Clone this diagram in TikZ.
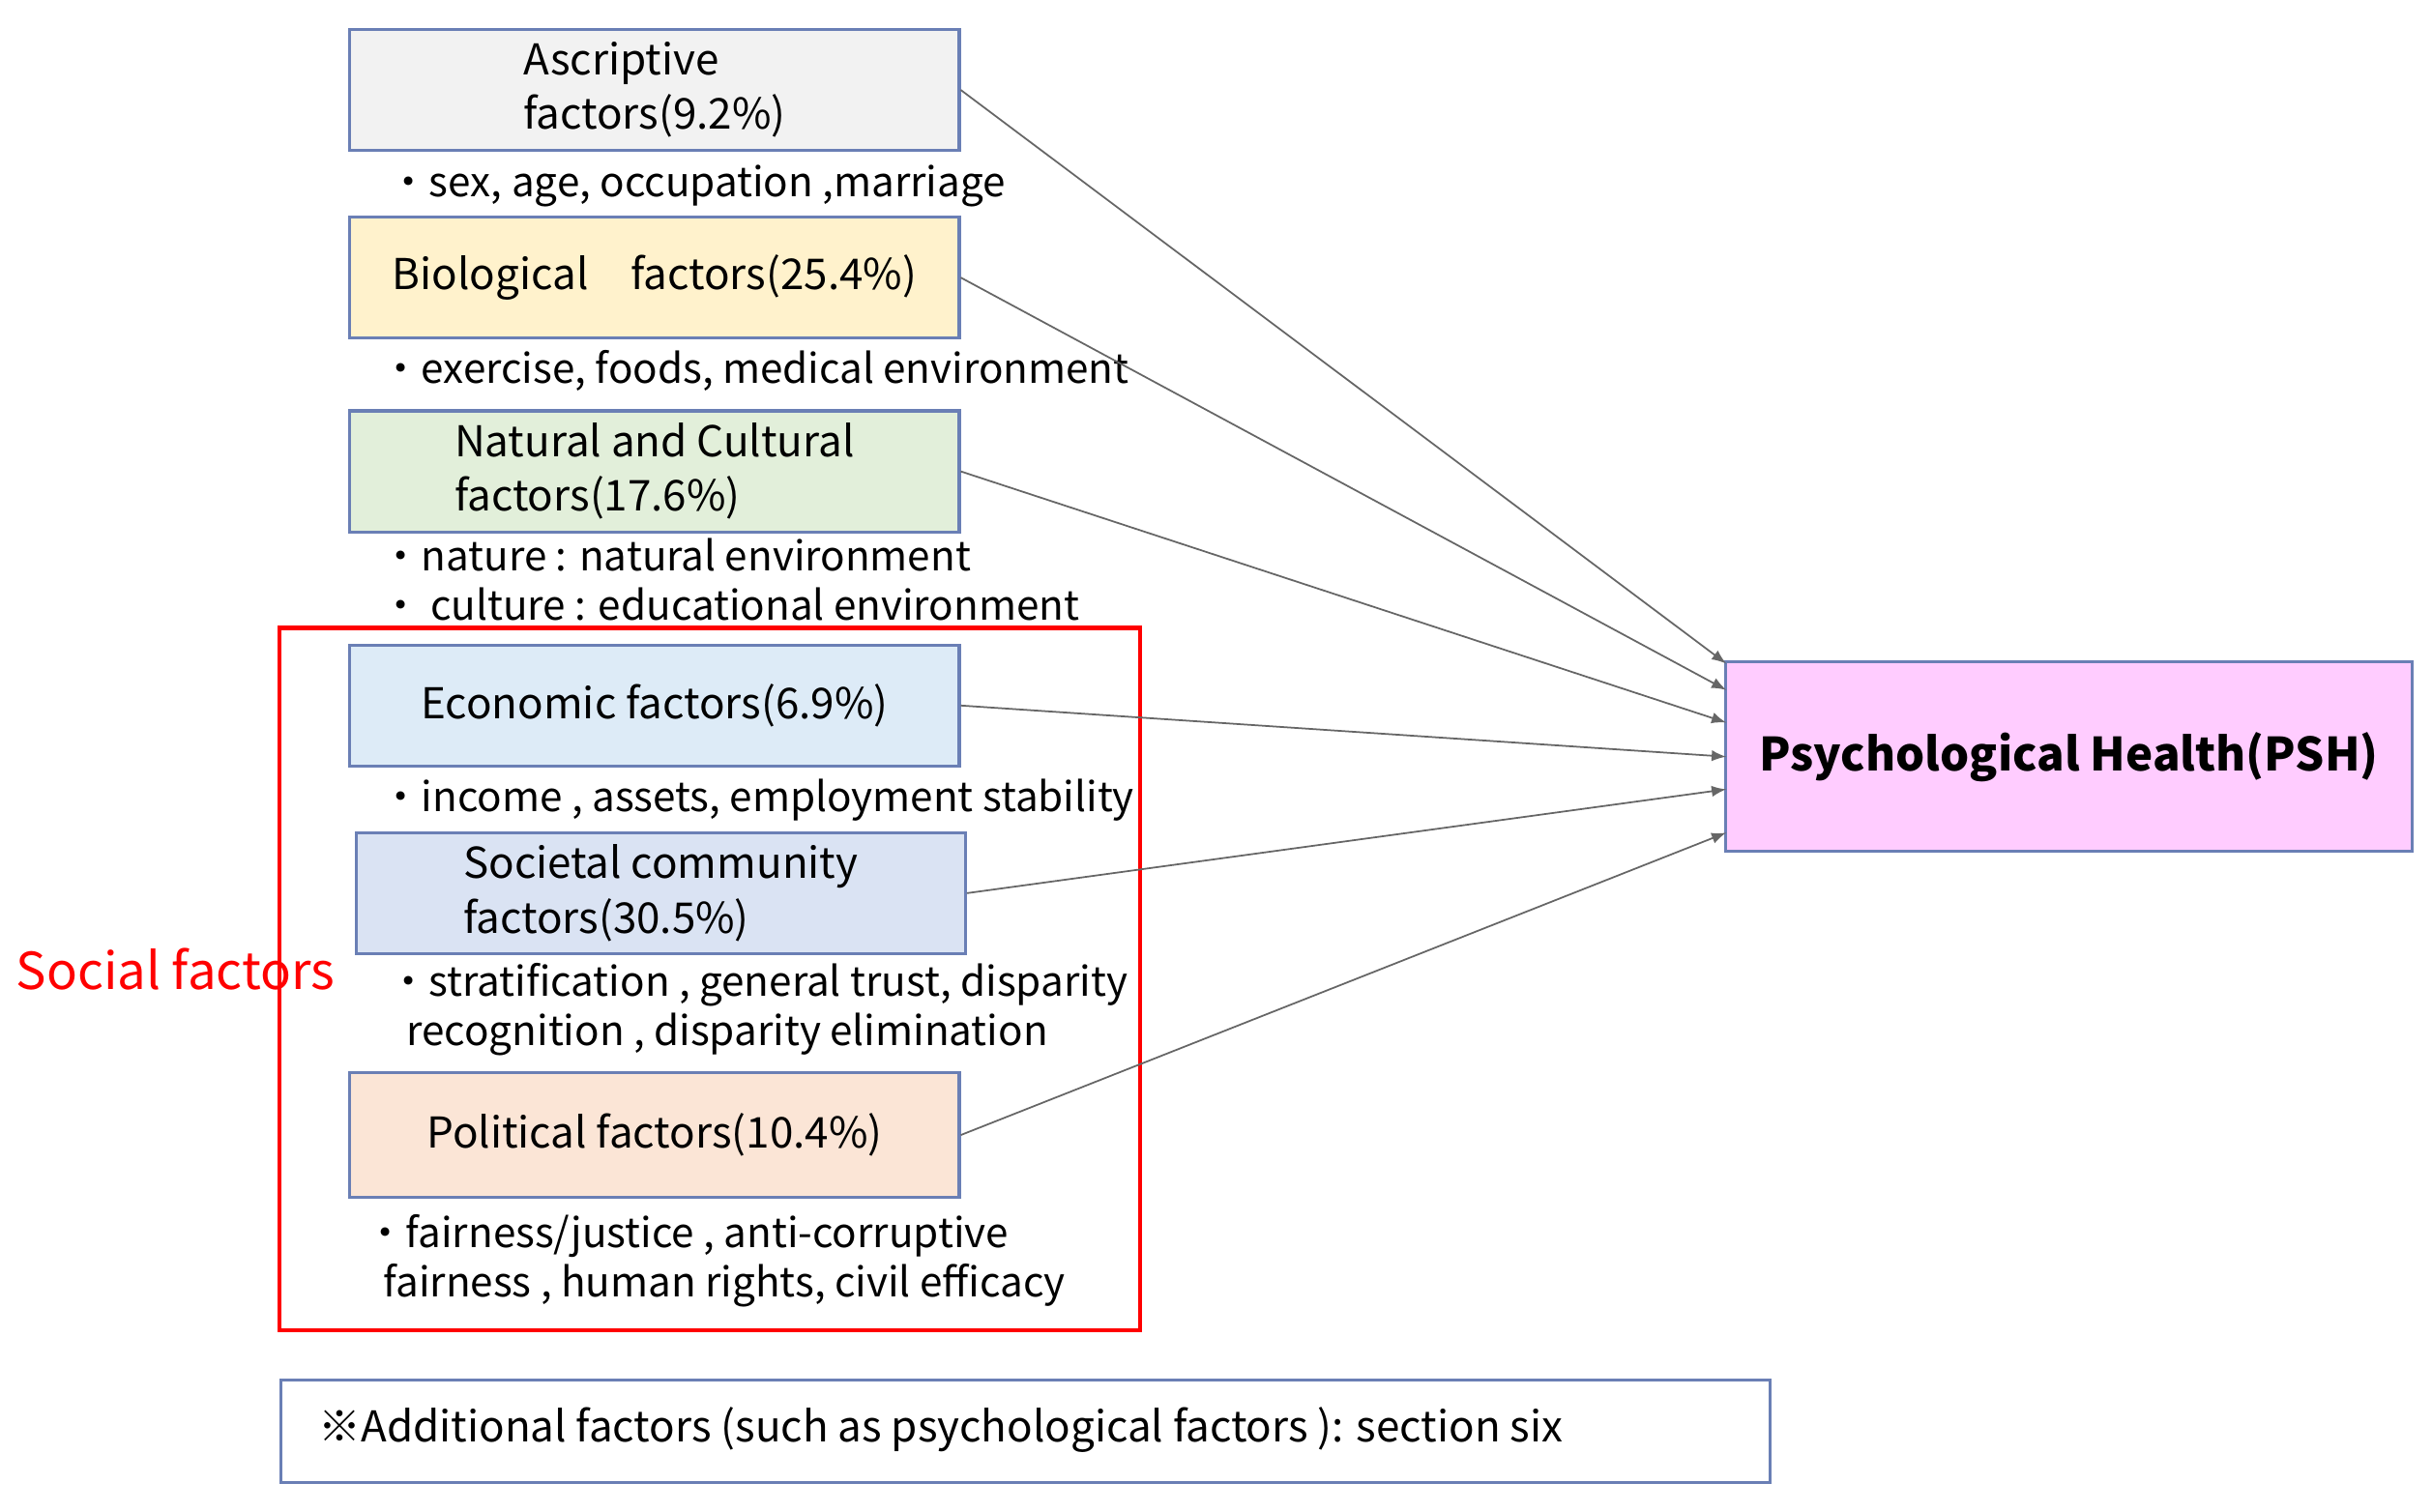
\documentclass[tikz,border=0pt]{standalone}
\usepackage{fontspec}
\setmainfont{Noto Sans CJK JP}
\usetikzlibrary{positioning}
\definecolor{ascr}{HTML}{F2F2F2}
\definecolor{biol}{HTML}{FFF2CC}
\definecolor{natu}{HTML}{E2EFDA}
\definecolor{econ}{HTML}{DDEBF7}
\definecolor{soci}{HTML}{DAE3F3}
\definecolor{poli}{HTML}{FBE5D6}
\definecolor{psh}{HTML}{FFCCFF}
\definecolor{edge}{HTML}{6A7FB5}
\begin{document}
\begin{tikzpicture}[x=0.01604cm,y=-0.01604cm,
  factor/.style={draw=edge,line width=0.9pt,minimum width=6.3cm,minimum height=1.25cm,font=\fontsize{12.5}{16}\selectfont,align=left},
  note/.style={anchor=west,font=\fontsize{12}{14.5}\selectfont,align=left,inner sep=0pt},
  link/.style={-latex,draw=black!60,line width=0.5pt}]
  \useasboundingbox (0,0) rectangle (1568,975);
  % factor boxes
  \node[factor,fill=ascr] (ascr) at (422,58) {Ascriptive\\factors(9.2\%)};
  \node[factor,fill=biol] (biol) at (422,179) {Biological\quad factors(25.4\%)};
  \node[factor,fill=natu] (natu) at (422,304) {Natural and Cultural\\factors(17.6\%)};
  \node[factor,fill=econ] (econ) at (422,455) {Economic factors(6.9\%)};
  \node[factor,fill=soci] (soci) at (426,576) {Societal community\\factors(30.5\%)};
  \node[factor,fill=poli,minimum height=1.29cm] (poli) at (422,732) {Political factors(10.4\%)};
  \node[draw=edge,line width=0.9pt,fill=psh,minimum width=7.1cm,minimum height=1.96cm,font=\fontsize{13.5}{16}\selectfont\bfseries] (psh) at (1334,488) {Psychological Health(PSH)};
  % notes
  \node[note] (n1) at (250,120) {・sex, age, occupation ,marriage};
  \node[note] (n2) at (245,239) {・exercise, foods, medical environment};
  \node[note] (n3) at (245,374) {・nature : natural environment\\・ culture : educational environment};
  \node[note] (n4) at (245,516) {・income , assets, employment stability};
  \node[note] (n5) at (250,651) {・stratification , general trust, disparity\\\ \ recognition , disparity elimination};
  \node[note] (n6) at (235,813) {・fairness/justice , anti-corruptive\\\ \ fairness , human rights, civil efficacy};
  % social group
  \draw[red,line width=1.2pt] (180,405) rectangle (735,858);
  \node[red,anchor=west,inner sep=0pt,font=\fontsize{15}{18}\selectfont] (soc) at (10,625) {Social factors};
  % bottom note
  \node[draw=edge,line width=0.9pt,minimum width=15.4cm,minimum height=1.06cm,anchor=north west,inner sep=0pt] (add) at (180,889) {};
  \node[note,font=\fontsize{12.5}{15}\selectfont] (addt) at (205,922) {※Additional factors (such as psychological factors ): section six};
  % connectors
  \coordinate (p1) at (1113,428);
  \coordinate (p2) at (1113,445);
  \coordinate (p3) at (1113,466);
  \coordinate (p4) at (1113,488);
  \coordinate (p5) at (1113,509);
  \coordinate (p6) at (1113,537);
  \draw[link] (ascr.east) -- (p1);
  \draw[link] (biol.east) -- (p2);
  \draw[link] (natu.east) -- (p3);
  \draw[link] (econ.east) -- (p4);
  \draw[link] (soci.east) -- (p5);
  \draw[link] (poli.east) -- (p6);
\end{tikzpicture}
\end{document}
